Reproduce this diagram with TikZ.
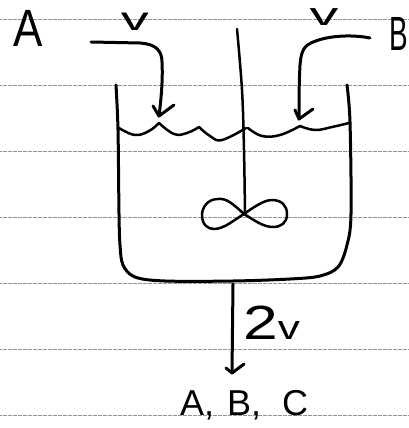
\documentclass[tikz,border=0pt]{standalone}
\usepackage{fontspec}
\setmainfont{Liberation Sans}
\tikzset{
  ink/.style={draw=black,line width=3pt,line cap=round,line join=round},
  thinink/.style={draw=black,line width=2.5pt,line cap=round,line join=round},
  rule/.style={draw=black!42,line width=0.55pt,dash pattern=on 2pt off 0.5pt},
  lab/.style={inner sep=0pt,text=black}
}
\begin{document}
\begin{tikzpicture}[x=1pt,y=-1pt]
\useasboundingbox (0,0) rectangle (409,428);
% ruled paper
\foreach \yy in {19,85,151,217,283,349,415}{
  \draw[rule] (0,\yy) -- (409,\yy);
}
% tank
\draw[ink] plot[smooth,tension=.55] coordinates {(116,85) (118,130) (119,214) (120,245) (123,265) (135,277) (165,281) (233,281) (290,279) (320,276) (338,267) (347,245) (351,214) (350,122) (347,85)};
% liquid surface
\draw[thinink] plot[smooth,tension=.7] coordinates {(119,128) (135,135) (149,131) (159,123)};
\draw[thinink] plot[smooth,tension=.7] coordinates {(159,123) (174,134) (187,133) (199,127)};
\draw[thinink] plot[smooth,tension=.7] coordinates {(199,127) (210,136) (222,140) (246,128)};
\draw[thinink] plot[smooth,tension=.7] coordinates {(248,128) (262,136) (280,135) (300,126)};
\draw[thinink] plot[smooth,tension=.7] coordinates {(300,126) (315,130) (332,127) (349,123)};
% shaft
\draw[thinink] plot[smooth,tension=.6] coordinates {(237,29) (242,90) (244,150) (245,214)};
% impeller
\draw[thinink] (244,214) .. controls (232,203) and (226,198) .. (218,199)
  .. controls (208,199) and (202,207) .. (202,215)
  .. controls (202,225) and (208,229) .. (214,229)
  .. controls (224,229) and (234,220) .. (244,214)
  .. controls (254,207) and (264,200) .. (272,200)
  .. controls (282,200) and (287,206) .. (287,214)
  .. controls (287,223) and (281,227) .. (273,227)
  .. controls (263,227) and (254,220) .. (244,214);
% inlet A
\coordinate (aS) at (91,42);
\coordinate (aT) at (159,116);
\draw[ink] (aS) -- (140,43) .. controls (155,44) and (162,50) .. (162,62) .. controls (163,80) and (161,100) .. (aT);
\draw[ink] (153,106) -- (aT) -- (174,105);
% inlet B
\coordinate (bS) at (370,38);
\coordinate (bT) at (299,119);
\draw[ink] (bS) .. controls (350,34) and (325,36) .. (311,43) .. controls (302,47) and (301,55) .. (300,65) .. controls (299,85) and (299,100) .. (bT);
\draw[ink] (295,110) -- (bT) -- (313,109);
% outlet
\coordinate (oS) at (233,284);
\coordinate (oT) at (232,373);
\draw[ink] (oS) -- (oT);
\draw[ink] (226,368) -- (oT) -- (244,364);
% labels
\node[lab,font=\fontsize{50}{50}\selectfont,xscale=.88,yscale=1.05] (la) at (28,28) {A};
\node[lab,font=\fontsize{33}{33}\selectfont,anchor=base,xscale=1.7] (lv1) at (135,31) {v};
\node[lab,font=\fontsize{32}{32}\selectfont,anchor=base,xscale=1.8] (lv2) at (324,26) {v};
\node[lab,font=\fontsize{48}{48}\selectfont,anchor=base west,xscale=.58] (lb) at (389,51) {B};
\node[lab,font=\fontsize{48}{48}\selectfont,anchor=base west,xscale=1.3] (l2v) at (243,339) {2\fontsize{34}{34}\selectfont v};
\node[lab,font=\fontsize{36}{36}\selectfont,anchor=base west] (lout) at (180,415) {A,\hspace{13pt}B,\hspace{21pt}C};
\end{tikzpicture}
\end{document}
